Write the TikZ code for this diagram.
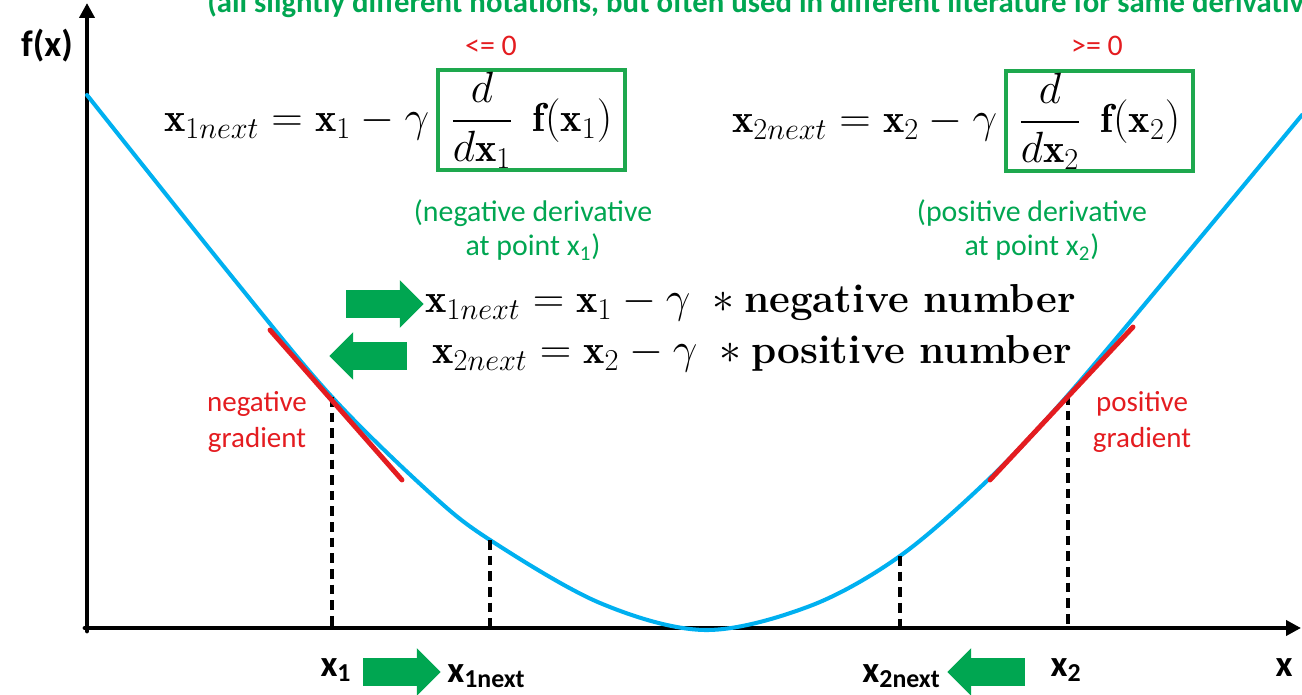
\documentclass[tikz,border=0pt]{standalone}
\usepackage{amsmath,amssymb}
\usepackage{fontspec}
\newfontfamily\calibri{Carlito}
\usepackage{tikz}
\usetikzlibrary{arrows.meta,shapes.arrows,positioning}
\usepackage{xcolor}
\definecolor{curveblue}{RGB}{0,176,240}
\definecolor{notegreen}{RGB}{0,166,81}
\definecolor{boxgreen}{RGB}{30,168,78}
\definecolor{gradred}{RGB}{228,28,32}

\begin{document}
\begin{tikzpicture}[x=0.02cm,y=-0.02cm,>={Triangle[length=3mm,width=3mm]},line cap=round,
  lbl/.style={font=\calibri\bfseries\fontsize{21}{24}\selectfont,inner sep=0pt},
  note/.style={font=\calibri\fontsize{17}{19.5}\selectfont,text=notegreen,align=center,inner sep=0pt},
  rednote/.style={font=\calibri\fontsize{16.5}{20.4}\selectfont,text=gradred,align=center,inner sep=0pt},
  eq/.style={font=\fontsize{23}{28}\selectfont,inner sep=0pt},
  derivbox/.style={eq,draw=boxgreen,line width=2.8pt,minimum width=3.74cm,minimum height=2cm},
  blockarrow/.style={single arrow,fill=notegreen,draw=none,minimum height=1.55cm,minimum width=0.94cm,
    single arrow head extend=0.2cm,inner xsep=0pt,inner ysep=0.27cm},
  dropline/.style={black,line width=2pt,line cap=butt,dash pattern=on 5.5pt off 3.4pt},
  tangent/.style={gradred,line width=2.8pt}]
\useasboundingbox (0,0) rectangle (1302,695);
\clip (0,0) rectangle (1302,695);
\node[note,font=\calibri\bfseries\fontsize{17.5}{20}\selectfont,anchor=base west] (remark) at (207,13) {(all slightly different notations, but often used in different literature for same derivative)};
\draw[line width=2.8pt,->] (87,631) -- (87,3);
\draw[line width=2.8pt,->] (85,628) -- (1301,628);
\coordinate (o) at (87,628);
\node[lbl] (fx) at (47,46) {f(x)};
\node[lbl] (xlab) at (1284,668) {x};
\draw[curveblue,line width=2.3pt] plot[smooth,tension=0.55] coordinates {(87,95) (233,278) (332,397) (430,493) (490,540) (600,603) (705,630) (810,606) (900,556) (990,478) (1068,395) (1190,250) (1302,115)};
\coordinate (c1) at (332,397);
\coordinate (n1) at (490,540);
\coordinate (n2) at (900,556);
\coordinate (c2) at (1068,395);
\draw[dropline] (c1) -- (c1 |- o);
\draw[dropline] (n1) -- (n1 |- o);
\draw[dropline] (n2) -- (n2 |- o);
\draw[dropline] (c2) -- (c2 |- o);
\coordinate (t1a) at (270,330);
\coordinate (t1b) at (402,480);
\coordinate (t2a) at (990,480);
\coordinate (t2b) at (1133,327);
\draw[tangent] (t1a) -- (t1b);
\draw[tangent] (t2a) -- (t2b);
\node[rednote] (neggrad) at (257,422) {negative\\gradient};
\node[rednote] (posgrad) at (1142,422) {positive\\gradient};
\node[derivbox] (dbox1) at (531.5,120) {$\displaystyle\frac{d}{d\mathbf{x}_1}\ \,\mathbf{f}(\mathbf{x}_1)$};
\node[eq,anchor=base east] (upd1) at ([xshift=-0.12cm]dbox1.base west) {$\mathbf{x}_{1next} = \mathbf{x}_1 - \gamma$};
\node[derivbox] (dbox2) at (1099.5,121) {$\displaystyle\frac{d}{d\mathbf{x}_2}\ \,\mathbf{f}(\mathbf{x}_2)$};
\node[eq,anchor=base east] (upd2) at ([xshift=-0.12cm]dbox2.base west) {$\mathbf{x}_{2next} = \mathbf{x}_2 - \gamma$};
\node[rednote,font=\calibri\fontsize{17}{20}\selectfont] (le0) at (491,46) {<= 0};
\node[rednote,font=\calibri\fontsize{17}{20}\selectfont] (ge0) at (1097,46) {>= 0};
\node[note] (negder) at (533,230) {(negative derivative\\at point x\textsubscript{1})};
\node[note] (posder) at (1032,230) {(positive derivative\\at point x\textsubscript{2})};
\node[blockarrow] (mvr) at (378,304) {};
\node[eq,anchor=base west] (eqneg) at (425,313) {$\mathbf{x}_{1next} = \mathbf{x}_1 - \gamma\ \ast \textbf{negative number}$};
\node[blockarrow,shape border rotate=180] (mvl) at (375,356) {};
\node[eq,anchor=base west] (eqpos) at (432,364) {$\mathbf{x}_{2next} = \mathbf{x}_2 - \gamma\ \ast \textbf{positive number}$};
\node[lbl] (x1) at (336,670) {x\textsubscript{1}};
\node[blockarrow] (mv1) at (395,672) {};
\node[lbl,anchor=west] (x1n) at (447,676) {x\textsubscript{1next}};
\node[lbl,anchor=east] (x2n) at (941,676) {x\textsubscript{2next}};
\node[blockarrow,shape border rotate=180] (mv2) at (993,672) {};
\node[lbl] (x2) at (1066,670) {x\textsubscript{2}};
\end{tikzpicture}
\end{document}
